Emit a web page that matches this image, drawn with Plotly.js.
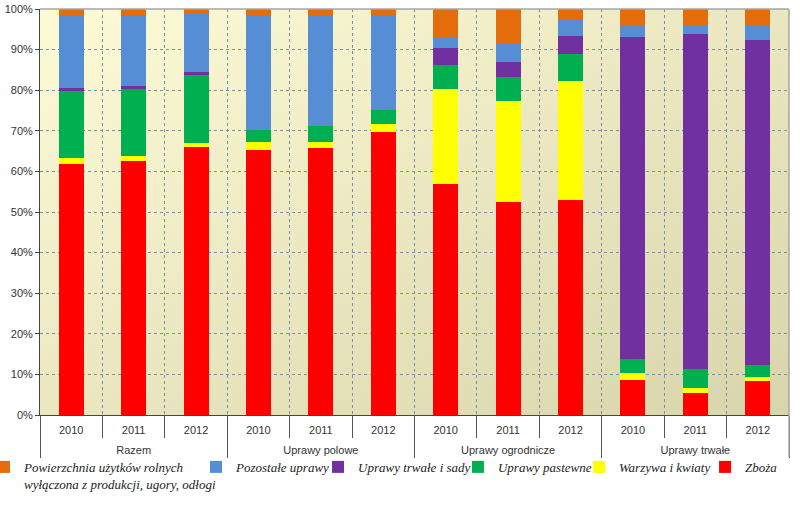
<!DOCTYPE html>
<html>
<head>
<meta charset="utf-8">
<script src="https://cdn.plot.ly/plotly-3.0.1.min.js"></script>
<style>html,body{margin:0;padding:0;background:#fff;}#chart{width:800px;height:519px;}</style>
</head>
<body>
<div id="chart"></div>
<script>
// Categories
const groups = ["Razem", "Razem", "Razem", "Uprawy polowe", "Uprawy polowe", "Uprawy polowe",
  "Uprawy ogrodnicze", "Uprawy ogrodnicze", "Uprawy ogrodnicze", "Uprawy trwałe", "Uprawy trwałe", "Uprawy trwałe"];
const years = ["2010", "2011", "2012", "2010", "2011", "2012", "2010", "2011", "2012", "2010", "2011", "2012"];

// Series values (percent shares, bottom to top)
const zboza      = [61.8, 62.6, 66.0, 65.3, 65.8, 69.7, 57.0, 52.4, 53.0, 8.7, 5.3, 8.4];
const warzywa    = [1.5, 1.2, 1.0, 1.9, 1.4, 2.0, 23.4, 24.9, 29.3, 1.7, 1.4, 1.0];
const pastewne   = [16.5, 16.5, 16.7, 3.0, 4.0, 3.4, 5.8, 6.0, 6.6, 3.3, 4.6, 2.9];
const trwale     = [0.7, 0.7, 0.8, 0.0, 0.0, 0.0, 4.2, 3.6, 4.4, 79.3, 82.5, 80.1];
const pozostale  = [18.0, 17.3, 14.3, 28.1, 27.3, 23.4, 2.5, 4.7, 4.2, 2.8, 2.3, 3.4];
const powierzchnia = [1.5, 1.7, 1.2, 1.7, 1.5, 1.5, 7.1, 8.4, 2.5, 4.2, 3.9, 4.2];

const seriesNames = ["Zboża", "Warzywa i kwiaty", "Uprawy pastewne", "Uprawy trwałe i sady",
  "Pozostałe uprawy", "Powierzchnia użytków rolnych<br>wyłączona z produkcji, ugory, odłogi"];
const seriesValues = [zboza, warzywa, pastewne, trwale, pozostale, powierzchnia];
const seriesColors = ["#ff0000", "#ffff00", "#00b050", "#7030a0", "#558ed5", "#e46c0a"];
const legendIds = ["legend6", "legend5", "legend4", "legend3", "legend2", "legend"];
const legendX = [0.8879, 0.7196, 0.5580, 0.3712, 0.2083, -0.0748];

// unique category keys (group + year), labelled with the year
const catKeys = groups.map((g, i) => g + " " + years[i]);
// group label positions and group boundaries, derived from the groups array
const groupNames = [...new Set(groups)];
const groupCenters = groupNames.map(g => {
  const idx = groups.map((v, i) => v === g ? i : -1).filter(i => i >= 0);
  return (idx[0] + idx[idx.length - 1]) / 2;
});
const groupBounds = [-0.5];
groupNames.forEach(g => groupBounds.push(groupBounds[groupBounds.length - 1] + groups.filter(v => v === g).length));

const traces = seriesValues.map((vals, i) => ({
  type: "bar",
  name: seriesNames[i],
  x: catKeys,
  y: vals,
  marker: {color: seriesColors[i], line: {width: 0}},
  legend: legendIds[i],
  hoverinfo: "y+name"
}));
// empty helper trace so the group-label axis (x2) is drawn
traces.push({type: "scatter", mode: "markers", x: [], y: [], xaxis: "x2", yaxis: "y",
  showlegend: false, hoverinfo: "skip"});

const tickFont = {family: "Liberation Sans, Arial, sans-serif", size: 11, color: "#333"};
const legendFont = {family: "Liberation Serif, Times New Roman, serif", size: 13, style: "italic", color: "#222"};
const layout = {
  width: 800, height: 519,
  margin: {l: 40, r: 11, t: 9, b: 104, autoexpand: false},
  paper_bgcolor: "#ffffff",
  plot_bgcolor: "rgba(0,0,0,0)",
  barmode: "stack",
  bargap: 0.6,
  font: {family: "Liberation Sans, Arial, sans-serif", size: 11, color: "#333"},
  xaxis: {
    type: "category",
    range: [-0.5, catKeys.length - 0.5],
    tickmode: "array", tickvals: catKeys, ticktext: years,
    showgrid: true, gridcolor: "#7a90a3", griddash: "dot", gridwidth: 1,
    tickson: "boundaries", ticks: "outside", ticklen: 22, tickcolor: "#555",
    ticklabelstandoff: 5,
    showline: true, linecolor: "#444", linewidth: 1,
    tickfont: tickFont
  },
  xaxis2: {
    type: "linear",
    overlaying: "x", anchor: "y", side: "bottom",
    range: [-0.5, catKeys.length - 0.5], fixedrange: true,
    tickmode: "array", tickvals: groupCenters, ticktext: groupNames,
    ticks: "", showgrid: false, zeroline: false, showline: false,
    ticklabelstandoff: 27,
    minor: {tickmode: "array", tickvals: groupBounds, ticks: "outside", ticklen: 42, tickcolor: "#555", tickwidth: 1, showgrid: false},
    tickfont: tickFont
  },
  yaxis: {
    range: [0, 100], dtick: 10, ticksuffix: "%",
    showgrid: true, gridcolor: "#7a90a3", griddash: "dot", gridwidth: 1,
    ticks: "outside", ticklen: 4, tickcolor: "#444",
    showline: true, linecolor: "#444", linewidth: 1,
    zeroline: false,
    tickfont: tickFont
  },
  showlegend: true,
  shapes: [
    {type: "line", xref: "paper", yref: "paper", x0: 0, x1: 1, y0: 1, y1: 1, line: {color: "#a6a6a6", width: 1.5}},
    {type: "line", xref: "paper", yref: "paper", x0: 1, x1: 1, y0: 1, y1: -0.103, line: {color: "#a6a6a6", width: 1.5}}
  ],
  images: [{
    source: "data:image/svg+xml;base64," + btoa('<svg xmlns="http://www.w3.org/2000/svg" width="200" height="100" viewBox="0 0 200 100" preserveAspectRatio="none"><defs><linearGradient id="g" x1="0" y1="0" x2="1" y2="1"><stop offset="0" stop-color="#fdfbd6"/><stop offset="1" stop-color="#d8d4ab"/></linearGradient></defs><rect width="200" height="100" fill="url(#g)"/></svg>'),
    xref: "paper", yref: "paper", x: 0, y: 1, sizex: 1, sizey: 1,
    sizing: "stretch", xanchor: "left", yanchor: "top", layer: "below"
  }]
};
legendIds.forEach((id, i) => {
  layout[id] = {
    x: legendX[i], y: -0.091, xref: "paper", yref: "paper",
    xanchor: "left", yanchor: "top", valign: "top",
    orientation: "h", bgcolor: "rgba(0,0,0,0)", borderwidth: 0,
    font: legendFont, itemwidth: 30
  };
});

Plotly.newPlot("chart", traces, layout, {displayModeBar: false, staticPlot: true});
</script>
</body>
</html>
